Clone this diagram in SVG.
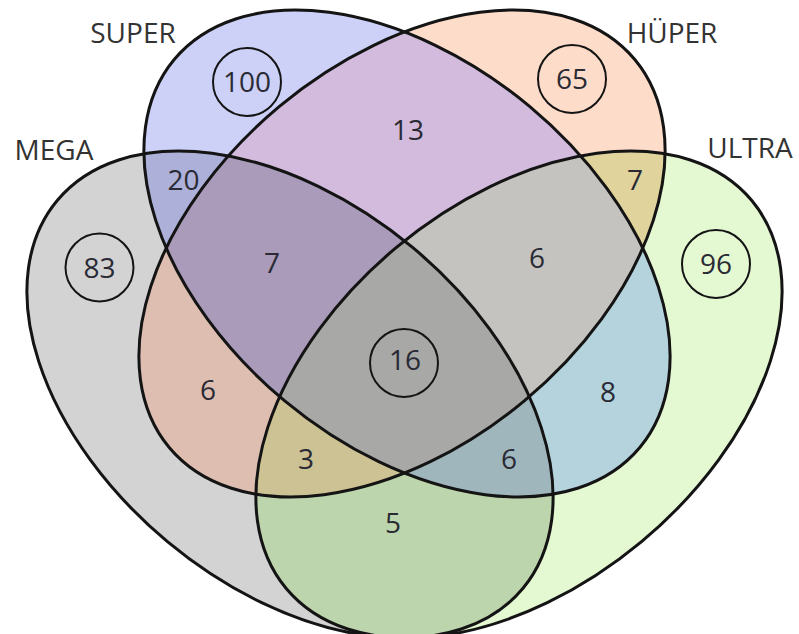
<svg xmlns="http://www.w3.org/2000/svg" xmlns:xlink="http://www.w3.org/1999/xlink" width="799" height="634" viewBox="0 0 799 634">
<style>
.outline{fill:none;stroke:#141414;stroke-width:3}
.ring{fill:none;stroke:#141414;stroke-width:2}
.lbl{font-family:"Open Sans","Noto Sans","Liberation Sans",sans-serif;font-size:28px;fill:#333;text-anchor:middle}
.num{font-family:"Open Sans","Noto Sans","Liberation Sans",sans-serif;font-size:28px;fill:#2a2a35;text-anchor:middle}
</style>
<defs>
<ellipse id="eS" cx="0" cy="0" rx="303" ry="191.5" transform="translate(407 253.5) rotate(39.8)"/>
<ellipse id="eH" cx="0" cy="0" rx="303" ry="191.5" transform="translate(402 253.5) rotate(-39.8)"/>
<ellipse id="eM" cx="0" cy="0" rx="303" ry="191.5" transform="translate(290 394.5) rotate(39.8)"/>
<ellipse id="eU" cx="0" cy="0" rx="303" ry="191.5" transform="translate(519 394.5) rotate(-39.8)"/>
<clipPath id="cS"><use href="#eS"/></clipPath>
<clipPath id="cH"><use href="#eH"/></clipPath>
<clipPath id="cM"><use href="#eM"/></clipPath>
<clipPath id="cU"><use href="#eU"/></clipPath>
</defs>
<rect width="799" height="634" fill="#ffffff"/>
<g id="regions">
<use href="#eM" fill="#d3d3d3"/>
<use href="#eU" fill="#e4f8d2"/>
<use href="#eS" fill="#cdd1f7"/>
<use href="#eH" fill="#fddcc9"/>
<g clip-path="url(#cS)"><use href="#eH" fill="#d2bbdc"/></g>
<g clip-path="url(#cS)"><use href="#eM" fill="#adb1d9"/></g>
<g clip-path="url(#cS)"><use href="#eU" fill="#b4d3dc"/></g>
<g clip-path="url(#cH)"><use href="#eM" fill="#ddbeb0"/></g>
<g clip-path="url(#cH)"><use href="#eU" fill="#e0d49c"/></g>
<g clip-path="url(#cM)"><use href="#eU" fill="#bdd5ac"/></g>
<g clip-path="url(#cS)"><g clip-path="url(#cH)"><use href="#eM" fill="#a99bb9"/></g></g>
<g clip-path="url(#cS)"><g clip-path="url(#cH)"><use href="#eU" fill="#c4c3bf"/></g></g>
<g clip-path="url(#cS)"><g clip-path="url(#cM)"><use href="#eU" fill="#9fb6bd"/></g></g>
<g clip-path="url(#cH)"><g clip-path="url(#cM)"><use href="#eU" fill="#cdc294"/></g></g>
<g clip-path="url(#cS)"><g clip-path="url(#cH)"><g clip-path="url(#cM)"><use href="#eU" fill="#a8a8a6"/></g></g></g>
</g>
<g id="set-mega"><use href="#eM" class="outline"/><text class="lbl" x="54" y="160">MEGA</text></g>
<g id="set-ultra"><use href="#eU" class="outline"/><text class="lbl" x="750" y="158">ULTRA</text></g>
<g id="set-super"><use href="#eS" class="outline"/><text class="lbl" x="133" y="43">SUPER</text></g>
<g id="set-hyper"><use href="#eH" class="outline"/><text class="lbl" x="672" y="43">HÜPER</text></g>
<g id="counts">
<circle class="ring" cx="247" cy="82" r="34"/><text class="num" x="247" y="92">100</text>
<circle class="ring" cx="572" cy="79" r="34"/><text class="num" x="572" y="89">65</text>
<circle class="ring" cx="99.5" cy="267.5" r="34"/><text class="num" x="99.5" y="277.5">83</text>
<circle class="ring" cx="716" cy="264" r="34"/><text class="num" x="716" y="274">96</text>
<circle class="ring" cx="404" cy="363" r="34"/><text class="num" x="405" y="370">16</text>
<text class="num" x="408" y="140">13</text>
<text class="num" x="183.5" y="190">20</text>
<text class="num" x="635" y="190">7</text>
<text class="num" x="272" y="273">7</text>
<text class="num" x="537" y="268">6</text>
<text class="num" x="208" y="400">6</text>
<text class="num" x="608" y="402">8</text>
<text class="num" x="306" y="469">3</text>
<text class="num" x="509" y="469">6</text>
<text class="num" x="393" y="533">5</text>
</g>
</svg>
